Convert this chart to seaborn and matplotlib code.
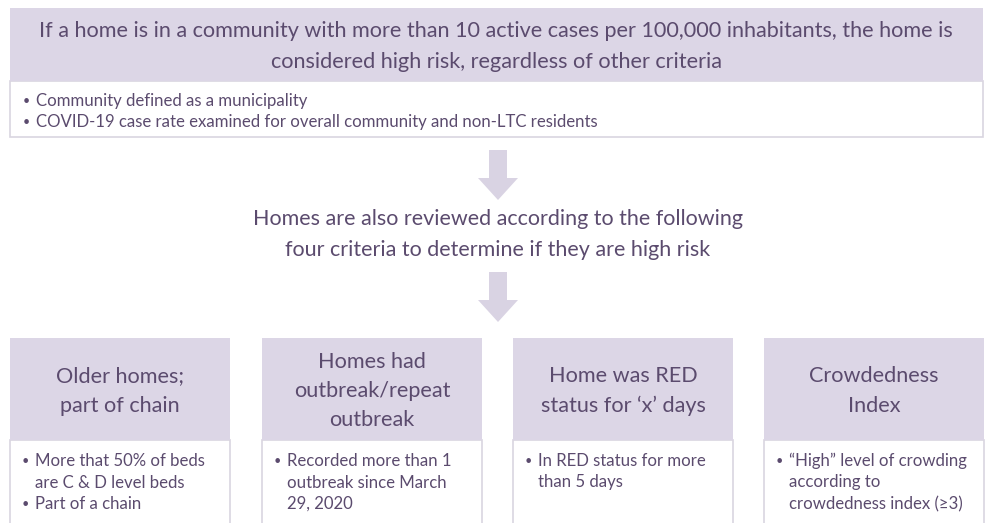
import matplotlib
matplotlib.use("Agg")
import matplotlib.pyplot as plt
from matplotlib.patches import Rectangle, FancyArrow
import seaborn as sns

# ---------------------------
# Diagram content
top_title = ["If a home is in a community with more than 10 active cases per 100,000 inhabitants, the home is",
             "considered high risk, regardless of other criteria"]
top_bullets = [["Community defined as a municipality"],
               ["COVID-19 case rate examined for overall community and non-LTC residents"]]
middle_text = ["Homes are also reviewed according to the following",
               "four criteria to determine if they are high risk"]
criteria_titles = [["Older homes;", "part of chain"],
                   ["Homes had", "outbreak/repeat", "outbreak"],
                   ["Home was RED", "status for \u2018x\u2019 days"],
                   ["Crowdedness", "Index"]]
criteria_bullets = [[["More that 50% of beds", "are C & D level beds"], ["Part of a chain"]],
                    [["Recorded more than 1", "outbreak since March", "29, 2020"]],
                    [["In RED status for more", "than 5 days"]],
                    [["\u201cHigh\u201d level of crowding", "according to", "crowdedness index (\u22653)"]]]

# ---------------------------
# Style
sns.set_style("white")
plt.rcParams['font.family'] = ['Lato', 'DejaVu Sans']
header_col = "#dcd6e6"
border_col = "#d9d5e0"
text_col = "#5b4b6e"
arrow_col = "#d9d3e3"

def px(p):
    return p * 72 / 100

fig = plt.figure(figsize=(9.88, 5.23), dpi=100)
ax = fig.add_axes([0, 0, 1, 1])
ax.set_xlim(0, 988)
ax.set_ylim(523, 0)
ax.axis("off")

def bullets(ax, items, x, y0, step, size):
    y = y0
    for item in items:
        ax.text(x, y, "\u2022", fontsize=px(size * 0.75), color=text_col, va="center", ha="center")
        for line in item:
            ax.text(x + 10, y, line, fontsize=px(size), color=text_col, va="center", ha="left")
            y += step

# ---------------------------
# 1. Top box
ax.add_patch(Rectangle((10, 81), 973, 56, facecolor="white", edgecolor=border_col, lw=1.2))
ax.add_patch(Rectangle((10, 8), 973, 73, facecolor=header_col, edgecolor="none"))
for i, line in enumerate(top_title):
    ax.text(496, 31 + i * 31, line, fontsize=px(21.7), color=text_col, ha="center", va="center")
bullets(ax, top_bullets, 26, 101, 21, 16.7)

# ---------------------------
# 2. Arrows and middle text
for y0 in [150, 272]:
    ax.add_patch(FancyArrow(498, y0, 0, 50, width=18, head_width=40, head_length=22,
                            length_includes_head=True, facecolor=arrow_col, edgecolor="none"))
for i, line in enumerate(middle_text):
    ax.text(498, 219 + i * 31, line, fontsize=px(21.5), color=text_col, ha="center", va="center")

# ---------------------------
# 3. Four criteria boxes
box_x = [10, 262, 513, 764]
box_w = 220
for bx, title, items in zip(box_x, criteria_titles, criteria_bullets):
    ax.add_patch(Rectangle((bx, 440), box_w, 90, facecolor="white", edgecolor=border_col, lw=1.2))
    ax.add_patch(Rectangle((bx, 338), box_w, 102, facecolor=header_col, edgecolor="none"))
    n = len(title)
    ytop = 391 - (n - 1) * 29 / 2
    for i, line in enumerate(title):
        ax.text(bx + box_w / 2, ytop + i * 29, line, fontsize=px(21.6), color=text_col,
                ha="center", va="center")
    bullets(ax, items, bx + 15, 461, 21.5, 16.8)

plt.savefig("out.png", dpi=100)
